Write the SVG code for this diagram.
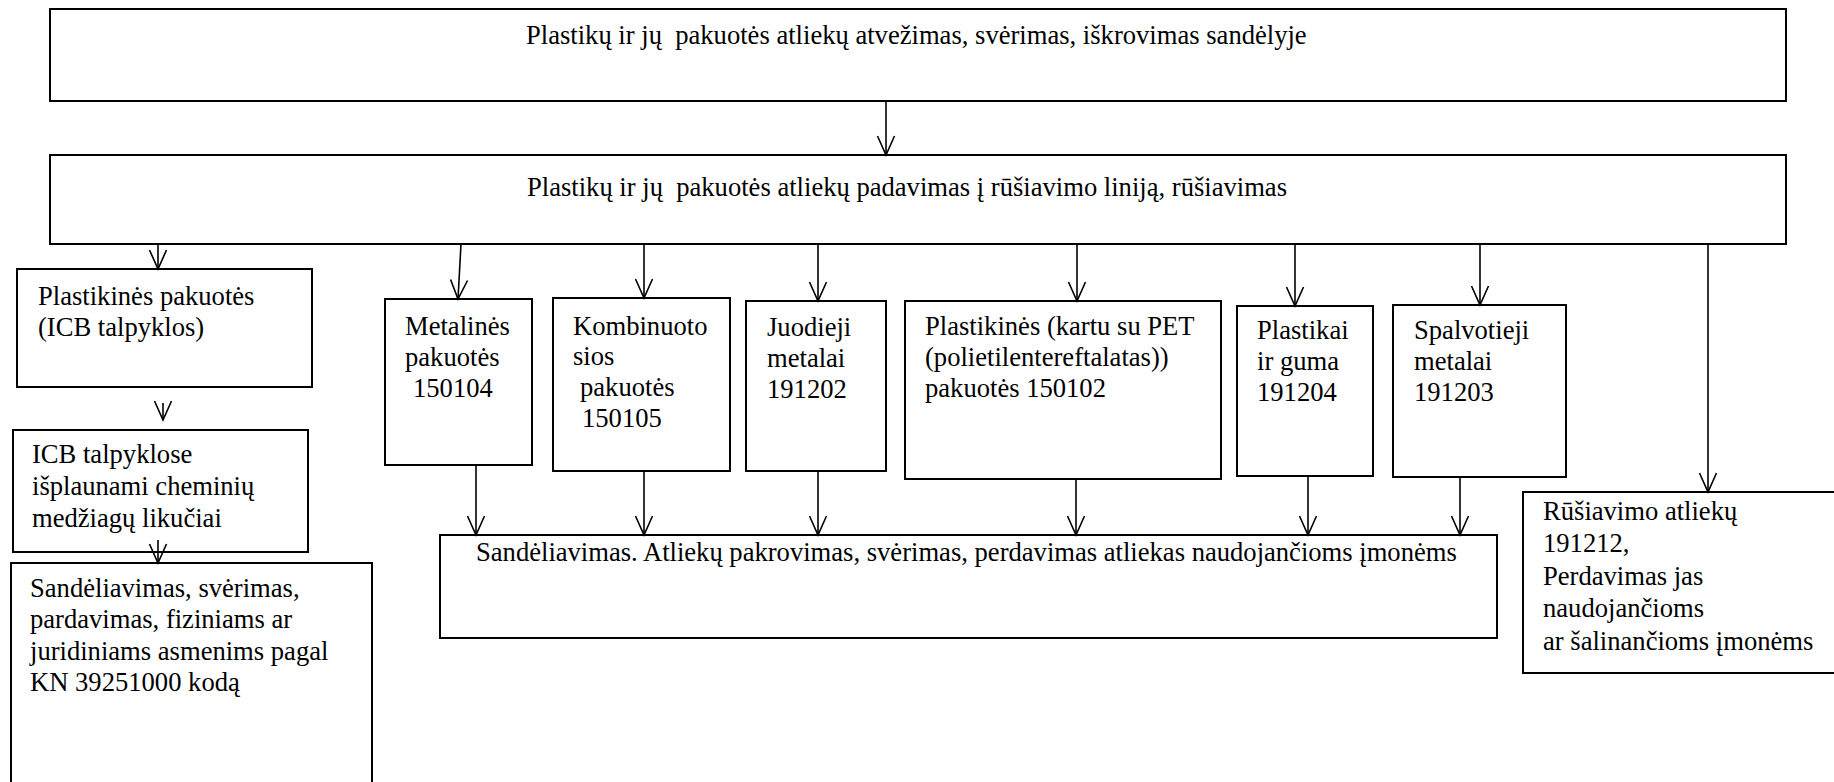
<svg xmlns="http://www.w3.org/2000/svg" width="1834" height="782" viewBox="0 0 1834 782">
<style>
rect{fill:#fff;stroke:#000;stroke-width:2}
text{font-family:"Liberation Serif","Times New Roman",serif;font-size:26.6px;fill:#000}
.c line{stroke:#000;stroke-width:1.6;marker-end:url(#ah)}
</style>
<defs>
<marker id="ah" markerUnits="userSpaceOnUse" markerWidth="40" markerHeight="40" viewBox="-20 -20 40 40" refX="0" refY="0" orient="auto" overflow="visible">
<path d="M-19,-8.5 L0,0 L-19,8.5" fill="none" stroke="#000" stroke-width="1.6"/>
</marker>
</defs>
<rect x="0" y="0" width="1834" height="782" style="stroke:none"/>
<g id="n1"><rect x="50" y="9" width="1736" height="92"/><text x="526" y="44" xml:space="preserve">Plastikų ir jų  pakuotės atliekų atvežimas, svėrimas, iškrovimas sandėlyje</text></g>
<g id="n2"><rect x="50" y="155" width="1736" height="89"/><text x="527" y="196" xml:space="preserve">Plastikų ir jų  pakuotės atliekų padavimas į rūšiavimo liniją, rūšiavimas</text></g>
<g id="n3"><rect x="17" y="269" width="295" height="118"/><text x="38" y="305">Plastikinės pakuotės</text><text x="38" y="336">(ICB talpyklos)</text></g>
<g id="n4"><rect x="13" y="430" width="295" height="122"/><text x="32" y="463">ICB talpyklose</text><text x="32" y="495">išplaunami cheminių</text><text x="32" y="527">medžiagų likučiai</text></g>
<g id="n5"><rect x="11" y="563" width="361" height="240"/><text x="30" y="597">Sandėliavimas, svėrimas,</text><text x="30" y="628">pardavimas, fiziniams ar</text><text x="30" y="660">juridiniams asmenims pagal</text><text x="30" y="691">KN 39251000 kodą</text></g>
<g id="n6"><rect x="385" y="299" width="147" height="166"/><text x="405" y="335">Metalinės</text><text x="405" y="366">pakuotės</text><text x="413" y="397">150104</text></g>
<g id="n7"><rect x="553" y="298" width="177" height="173"/><text x="573" y="335">Kombinuoto</text><text x="573" y="365">sios</text><text x="580" y="396">pakuotės</text><text x="582" y="427">150105</text></g>
<g id="n8"><rect x="746" y="301" width="140" height="170"/><text x="767" y="336">Juodieji</text><text x="767" y="367">metalai</text><text x="767" y="398">191202</text></g>
<g id="n9"><rect x="905" y="301" width="316" height="178"/><text x="925" y="335">Plastikinės (kartu su PET</text><text x="925" y="366">(polietilentereftalatas))</text><text x="925" y="397">pakuotės 150102</text></g>
<g id="n10"><rect x="1237" y="306" width="136" height="170"/><text x="1257" y="339">Plastikai</text><text x="1257" y="370">ir guma</text><text x="1257" y="401">191204</text></g>
<g id="n11"><rect x="1393" y="305" width="173" height="172"/><text x="1414" y="339">Spalvotieji</text><text x="1414" y="370">metalai</text><text x="1414" y="401">191203</text></g>
<g id="n12"><rect x="440" y="535" width="1057" height="103"/><text x="476" y="561">Sandėliavimas. Atliekų pakrovimas, svėrimas, perdavimas atliekas naudojančioms įmonėms</text></g>
<g id="n13"><rect x="1523" y="492" width="330" height="181"/><text x="1543" y="520">Rūšiavimo atliekų</text><text x="1543" y="552">191212,</text><text x="1543" y="585">Perdavimas jas</text><text x="1543" y="617">naudojančioms</text><text x="1543" y="650">ar šalinančioms įmonėms</text></g>
<g id="connectors" class="c">
<line x1="886" y1="101" x2="886" y2="155"/>
<line x1="158" y1="244" x2="158" y2="269"/>
<line x1="163" y1="403" x2="163" y2="420"/>
<line x1="158" y1="540" x2="158" y2="563"/>
<line x1="461" y1="244" x2="458" y2="299"/>
<line x1="644" y1="244" x2="644" y2="298"/>
<line x1="818" y1="244" x2="818" y2="301"/>
<line x1="1077" y1="244" x2="1077" y2="301"/>
<line x1="1295" y1="244" x2="1295" y2="306"/>
<line x1="1480" y1="244" x2="1480" y2="305"/>
<line x1="1708" y1="244" x2="1708" y2="492"/>
<line x1="476" y1="465" x2="476" y2="535"/>
<line x1="644" y1="471" x2="644" y2="535"/>
<line x1="818" y1="471" x2="818" y2="535"/>
<line x1="1076" y1="479" x2="1076" y2="535"/>
<line x1="1308" y1="476" x2="1308" y2="535"/>
<line x1="1460" y1="477" x2="1460" y2="535"/>
</g>
</svg>
